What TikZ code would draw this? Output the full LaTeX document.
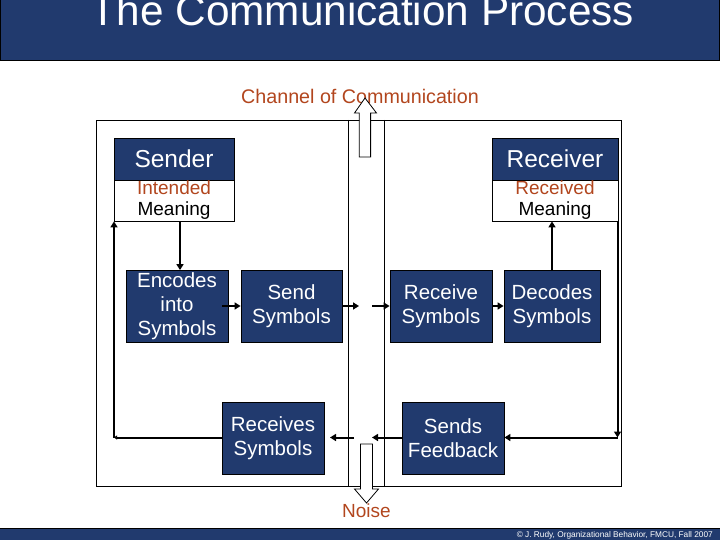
\documentclass[tikz,border=0pt]{standalone}
\usepackage{fontspec}
\setmainfont{Liberation Sans}
\usetikzlibrary{arrows.meta}
\definecolor{navy}{RGB}{33,58,110}
\definecolor{rust}{RGB}{178,70,30}
\begin{document}
\begin{tikzpicture}[x=1pt,y=-1pt,
  bluebox/.style={draw=black, fill=navy, text=white, align=center, inner sep=0pt, line width=0.8pt,
    font=\fontsize{20.5}{24}\selectfont, minimum height=72pt},
  headbox/.style={draw=black, fill=navy, text=white, inner sep=0pt, line width=0.8pt,
    font=\fontsize{24.5}{28}\selectfont, minimum height=42pt},
  meanbox/.style={draw=black, fill=white, align=center, inner sep=0pt, line width=0.8pt,
    font=\fontsize{19}{21}\selectfont, minimum height=41pt},
  conn/.style={line width=2pt, -{Triangle[length=6pt,width=7pt]}},
  blockarrow/.style={draw=black, fill=white, line width=0.8pt}]
\useasboundingbox (0,0) rectangle (720,540);
% title bar
\fill[navy] (0,0) rectangle (720,60);
\draw[line width=0.8pt] (0.5,0) -- (0.5,60) -- (719.5,60) -- (719.5,0);
\node[anchor=base, text=white, inner sep=0pt, font=\fontsize{42.3}{50}\selectfont] (title) at (362.5,26) {The Communication Process};
% footer bar
\fill[navy] (0,528) rectangle (720,540);
\draw[line width=0.8pt] (0,528) -- (720,528);
\node[anchor=base east, text=white, inner sep=0pt, font=\fontsize{8.3}{10}\selectfont] (foot) at (713,537) {© J. Rudy, Organizational Behavior, FMCU, Fall 2007};
% frame and channel
\draw[line width=0.8pt] (96,120) rectangle (621,486);
\draw[line width=0.8pt] (348,120) -- (348,486);
\draw[line width=0.8pt] (384,120) -- (384,486);
\node[anchor=base, text=rust, inner sep=0pt, font=\fontsize{19.7}{22}\selectfont] (chan) at (360,104) {Channel of Communication};
\node[anchor=base, text=rust, inner sep=0pt, font=\fontsize{19}{22}\selectfont] (noise) at (366.5,517) {Noise};
\draw[blockarrow] (359.3,157) -- (359.3,113) -- (354.5,113) -- (365,98) -- (376.5,113) -- (370.6,113) -- (370.6,157) -- cycle;
\draw[blockarrow] (360.5,444) -- (360.5,489) -- (354.5,489) -- (366.5,503) -- (378.5,489) -- (372.4,489) -- (372.4,444) -- cycle;
% sender / receiver
\node[headbox, minimum width=120pt] (sender) at (174,159) {Sender};
\node[meanbox, minimum width=120pt] (sm) at (174,200.5) {\textcolor{rust}{Intended}\\Meaning};
\node[headbox, minimum width=126pt] (receiver) at (555,159) {Receiver};
\node[meanbox, minimum width=126pt] (rm) at (555,200.5) {\textcolor{rust}{Received}\\Meaning};
% process boxes
\node[bluebox, minimum width=102pt] (enc) at (177,306.5) {Encodes\\into\\Symbols};
\node[bluebox, minimum width=101pt] (send) at (291.5,306.5) {Send\\Symbols};
\node[bluebox, minimum width=102pt] (recv) at (441,306.5) {Receive\\Symbols};
\node[bluebox, minimum width=96pt] (dec) at (552,306.5) {Decodes\\Symbols};
\node[bluebox, minimum width=102pt] (rs) at (273,438) {Receives\\Symbols};
\node[bluebox, minimum width=102pt] (fb) at (453,438) {Sends\\Feedback};
% helper coordinates
\coordinate (x180) at (180,0);
\coordinate (c1) at (359,306);
\coordinate (c2) at (372,306);
\coordinate (c3) at (372,437.5);
\coordinate (c4) at (354,437.5);
\coordinate (c5) at (330,437.5);
\coordinate (lc) at (114,437.5);
\coordinate (rc) at (617.5,437.5);
% connectors
\draw[conn] (sm.south -| x180) -- (enc.north -| x180);
\draw[conn] ([xshift=-6pt]enc.east |- c1) -- (send.west |- c1);
\draw[conn] (send.east |- c1) -- (c1);
\draw[conn] (c2) -- (recv.west |- c2);
\draw[conn] (recv.east |- c2) -- (dec.west |- c2);
\draw[conn] (dec.north) -- (dec.north |- rm.south);
\draw[conn] (rm.south east -| rc) -- (rc);
\draw[conn] (rc) -- (fb.east |- rc);
\draw[conn] (fb.west |- c3) -- (c3);
\draw[conn] (c4) -- (c5);
\draw[line width=2pt, -{Triangle[length=3pt,width=4pt]}] (rs.west |- lc) -- (lc);
\draw[conn] (lc) -- (lc |- sm.south);
\end{tikzpicture}
\end{document}
